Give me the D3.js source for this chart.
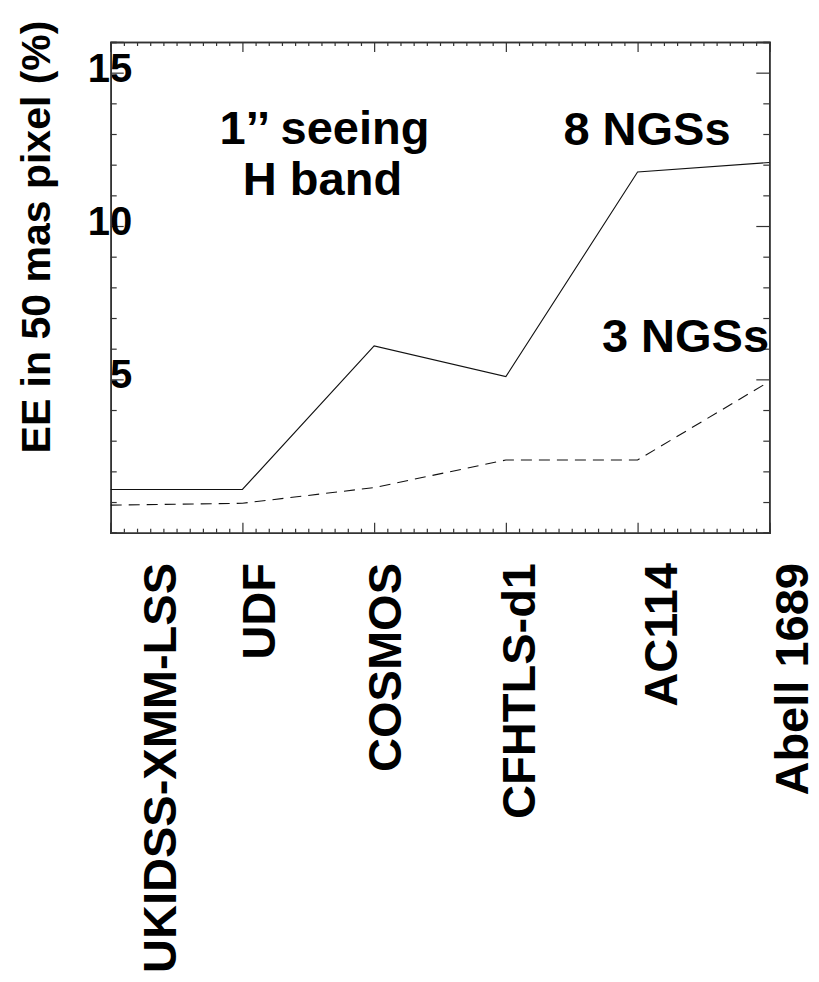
<!DOCTYPE html>
<html>
<head>
<meta charset="utf-8">
<script src="https://cdn.jsdelivr.net/npm/d3@7"></script>
<style>
  html, body { margin: 0; padding: 0; background: #fff; }
  svg text { font-family: "Liberation Sans", Arial, Helvetica, sans-serif; font-weight: bold; fill: #000; }
</style>
</head>
<body>
<svg id="chart" width="819" height="982"></svg>
<script>
// Survey fields along the x axis
const fields = ["UKIDSS-XMM-LSS", "UDF", "COSMOS", "CFHTLS-d1", "AC114", "Abell 1689"];
// Encircled energy (%) in a 50 mas pixel, H band, 1'' seeing
const ee8NGS = [1.41, 1.41, 6.09, 5.09, 11.76, 12.07];
const ee3NGS = [0.90, 0.96, 1.47, 2.37, 2.37, 4.93];
// Y axis labelled ticks
const yTickLabels = [5, 10, 15];

const svg = d3.select("#chart");

const plot = { left: 110.7, right: 769.3, top: 42, bottom: 532.7 };

const x = d3.scaleLinear().domain([0, fields.length - 1]).range([plot.left, plot.right]);
const y = d3.scaleLinear().domain([0, 16]).range([plot.bottom, plot.top]);

const axisColor = "#333";

// Minor ticks: tenths between fields on x, unit steps on y
const xMinor = d3.range(0, 5.0001, 0.1).map(v => +v.toFixed(2)).filter(v => Math.abs(v - Math.round(v)) > 1e-6);
const yMinor = d3.range(0, 16.5, 1).filter(v => !yTickLabels.includes(v));

function styleAxis(g) {
  g.select(".domain").attr("stroke", axisColor).attr("stroke-width", 1.6);
  g.selectAll(".tick line").attr("stroke", axisColor).attr("stroke-width", 1.2);
}

// Bottom axis (major + minor, ticks pointing inward)
svg.append("g").attr("transform", `translate(0,${plot.bottom})`)
  .call(d3.axisBottom(x).tickValues(d3.range(fields.length)).tickSize(-10).tickFormat(""))
  .call(styleAxis);
svg.append("g").attr("transform", `translate(0,${plot.bottom})`)
  .call(d3.axisBottom(x).tickValues(xMinor).tickSize(-4).tickFormat(""))
  .call(styleAxis);
// Top axis
svg.append("g").attr("transform", `translate(0,${plot.top})`)
  .call(d3.axisTop(x).tickValues(d3.range(fields.length)).tickSize(-10).tickFormat(""))
  .call(styleAxis);
svg.append("g").attr("transform", `translate(0,${plot.top})`)
  .call(d3.axisTop(x).tickValues(xMinor).tickSize(-4).tickFormat(""))
  .call(styleAxis);

// Left axis with labels sitting just inside the frame
const yLeft = svg.append("g").attr("transform", `translate(${plot.left},0)`)
  .call(d3.axisLeft(y).tickValues(yTickLabels).tickSize(-13).tickPadding(-21.5))
  .call(styleAxis);
yLeft.selectAll(".tick text")
  .attr("font-size", 40).attr("dy", "0.21em")
  .style("font-family", '"Liberation Sans", Arial, sans-serif').style("font-weight", "bold").attr("fill", "#000");
svg.append("g").attr("transform", `translate(${plot.left},0)`)
  .call(d3.axisLeft(y).tickValues(yMinor).tickSize(-6).tickFormat(""))
  .call(styleAxis);
// Right axis
svg.append("g").attr("transform", `translate(${plot.right},0)`)
  .call(d3.axisRight(y).tickValues(yTickLabels).tickSize(-13).tickFormat(""))
  .call(styleAxis);
svg.append("g").attr("transform", `translate(${plot.right},0)`)
  .call(d3.axisRight(y).tickValues(yMinor).tickSize(-6).tickFormat(""))
  .call(styleAxis);

// Curves
const line = d3.line().x((d, i) => x(i)).y(d => y(d));
svg.append("path").datum(ee8NGS)
  .attr("d", line).attr("fill", "none").attr("stroke", "#111").attr("stroke-width", 1.1);
svg.append("path").datum(ee3NGS)
  .attr("d", line).attr("fill", "none").attr("stroke", "#111").attr("stroke-width", 1.1)
  .attr("stroke-dasharray", "11,7");

// Rotated field names under the axis
const labelShift = [65, 33, 27, 29, 39, 39];
svg.append("g").selectAll("text").data(fields).join("text")
  .attr("transform", (d, i) => `translate(${x(i) + labelShift[i]},563) rotate(-90)`)
  .attr("text-anchor", "end")
  .attr("font-size", 47)
  .text(d => d);

// Y axis title
svg.append("text")
  .attr("transform", "translate(50,237) rotate(-90)")
  .attr("text-anchor", "middle")
  .attr("font-size", 41)
  .text("EE in 50 mas pixel (%)");

// In-plot annotations
const notes = [
  { t: "1\u2019\u2019 seeing", x: 324.5, y: 144 },
  { t: "H band", x: 322.5, y: 195 },
  { t: "8 NGSs", x: 647, y: 145 },
  { t: "3 NGSs", x: 685.5, y: 351.5 }
];
svg.append("g").selectAll("text").data(notes).join("text")
  .attr("x", d => d.x).attr("y", d => d.y)
  .attr("text-anchor", "middle")
  .attr("font-size", 47)
  .text(d => d.t);
</script>
</body>
</html>
